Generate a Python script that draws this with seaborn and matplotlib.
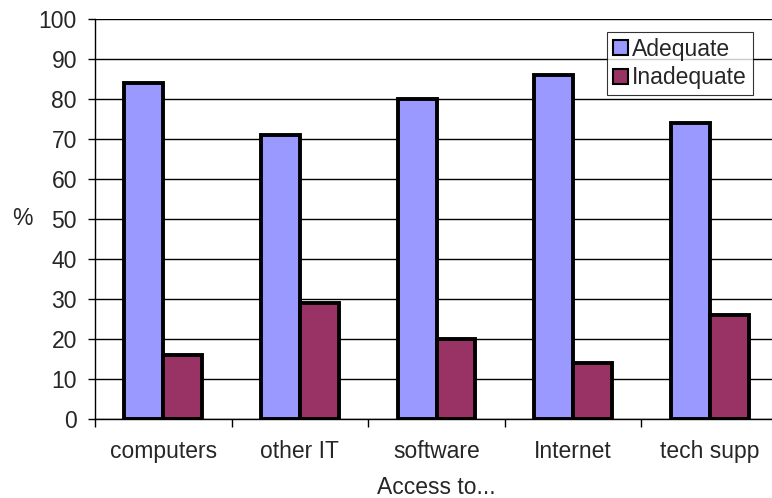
import matplotlib
matplotlib.use("Agg")
import matplotlib.pyplot as plt
import seaborn as sns
import pandas as pd
import numpy as np

categories = ["computers", "other IT", "software", "Internet", "tech supp"]
adequate = [84, 71, 80, 86, 74]
inadequate = [16, 29, 20, 14, 26]
series_names = ["Adequate", "Inadequate"]
colors = ["#9999FF", "#993366"]
y_ticks = [0, 10, 20, 30, 40, 50, 60, 70, 80, 90, 100]

df = pd.DataFrame({
    "category": categories * 2,
    "value": adequate + inadequate,
    "series": [series_names[0]] * len(categories) + [series_names[1]] * len(categories),
})

sns.set_style("white")
plt.rcParams["font.family"] = ["Liberation Sans", "DejaVu Sans"]

FS = 16.5

fig = plt.figure(figsize=(7.72, 4.98), dpi=100)
W, H = 772, 498
ax = fig.add_axes([95 / W, (H - 419) / H, (778 - 95) / W, (419 - 19) / H])

sns.barplot(data=df, x="category", y="value", hue="series", order=categories,
            hue_order=series_names, palette=colors, width=0.57,
            edgecolor="black", linewidth=2.8, saturation=1, ax=ax, zorder=3)

ax.set_ylim(0, 100)
ax.set_xlim(-0.5, len(categories) - 0.5)
ax.set_yticks(y_ticks)
ax.yaxis.grid(True, color="black", linewidth=1.0, zorder=0)
ax.set_axisbelow(True)

for side in ["top", "right"]:
    ax.spines[side].set_visible(False)
for side in ["left", "bottom"]:
    ax.spines[side].set_color("black")
    ax.spines[side].set_linewidth(1.0)

ax.tick_params(axis="y", which="major", direction="out", length=5, width=1,
               color="black", labelsize=FS, pad=8, left=True)
ax.set_xticks(np.arange(len(categories)))
ax.set_xticklabels(categories)
ax.set_xticks(np.arange(len(categories) + 1) - 0.5, minor=True)
ax.tick_params(axis="x", which="major", length=0, labelsize=FS, pad=15)
ax.tick_params(axis="x", which="minor", direction="out", length=6, width=1,
               color="black", bottom=True)

ax.set_xlabel("Access to...", fontsize=FS)
ax.xaxis.set_label_coords((436 - 95) / (778 - 95), -(487 - 419) / (419 - 19))
ax.xaxis.label.set_va("center")
ax.set_ylabel("%", fontsize=FS, rotation=0)
ax.yaxis.set_label_coords((22 - 95) / (778 - 95), (419 - 218) / (419 - 19))
ax.yaxis.label.set_va("center")

leg = ax.legend(loc="upper left", bbox_to_anchor=((607 - 95) / (778 - 95), (419 - 32) / (419 - 19)),
                frameon=True, fancybox=False, fontsize=FS, handlelength=0.65,
                handleheight=0.65, handletextpad=0.2, borderpad=0.25,
                labelspacing=0.25, borderaxespad=0)
leg.get_frame().set_edgecolor("black")
leg.get_frame().set_linewidth(0.8)
leg.set_zorder(5)
for h in leg.legend_handles:
    h.set_linewidth(1.5)
    h.set_edgecolor("black")

fig.savefig("out.png", dpi=100, facecolor="white")
